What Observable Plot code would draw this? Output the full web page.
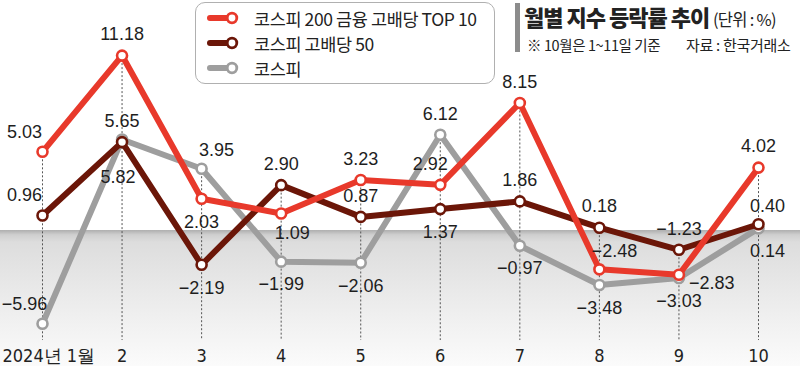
<!DOCTYPE html>
<html><head><meta charset="utf-8">
<script src="https://cdn.jsdelivr.net/npm/d3@7"></script>
<script src="https://cdn.jsdelivr.net/npm/@observablehq/plot@0.6"></script>
<style>
body{margin:0;background:#fff;}
#wrap{position:relative;width:800px;height:366px;overflow:hidden;font-family:"Noto Sans CJK KR","Noto Sans",sans-serif;}
#chart svg{display:block;}
#legend{position:absolute;left:195px;top:2px;width:300px;height:82px;box-sizing:border-box;border:1.5px solid #b0b0b0;border-radius:10px;background:#fff;}
.li{position:absolute;left:10px;height:24px;display:flex;align-items:center;font-size:17.5px;letter-spacing:-0.4px;color:#222;}
.li svg{margin-right:14px;}
#titlebar{position:absolute;left:515px;top:3px;width:5px;height:49px;background:#8c8c8c;}
#title{position:absolute;left:524px;top:3px;width:274px;white-space:nowrap;color:#222;line-height:26px;}
#title b{font-size:22px;font-weight:900;letter-spacing:-1px;}
#title span{font-size:16.5px;letter-spacing:-0.7px;}
#sub{position:absolute;left:527px;top:34px;font-size:14.5px;color:#222;white-space:nowrap;letter-spacing:-0.4px;}
#src{position:absolute;left:686px;top:34px;font-size:15px;color:#222;white-space:nowrap;letter-spacing:-0.3px;}
</style></head>
<body>
<div id="wrap">
<div id="chart"></div>
<div id="legend"></div>
<div id="titlebar"></div>
<div id="title"><b>월별 지수 등락률 추이</b> <span>(단위 : %)</span></div>
<div id="sub">※ 10월은 1~11일 기준</div>
<div id="src">자료 : 한국거래소</div>
</div>
<script>
// ---- data ----
const months = [1, 2, 3, 4, 5, 6, 7, 8, 9, 10];
const monthLabels = ["2024년 1월", "2", "3", "4", "5", "6", "7", "8", "9", "10"];
const seriesNames = ["코스피 200 금융 고배당 TOP 10", "코스피 고배당 50", "코스피"];
const top10 = [5.03, 11.18, 2.03, 1.09, 3.23, 2.92, 8.15, -2.48, -2.83, 4.02];
const div50 = [0.96, 5.65, -2.19, 2.90, 0.87, 1.37, 1.86, 0.18, -1.23, 0.40];
const kospi = [-5.96, 5.82, 3.95, -1.99, -2.06, 6.12, -0.97, -3.48, -3.03, 0.14];
// label placement codes (layout)
const top10Pos = ["tl", "t", "b", "br", "t", "tl1", "t", "tr", "r", "t"];
const div50Pos = ["tl", "t", "b", "t", "t", "b", "t", "t", "t", "tR"];
const kospiPos = ["tl", "bb", "tr", "b", "b", "t", "b", "b", "b", "bR"];

// ---- styles / layout ----
const colors = ["#e8392b", "#6b1608", "#9e9e9e"];
const placements = {
  t: {dx: 0, dy: -21, anchor: "middle"},
  tR: {dx: 9, dy: -18, anchor: "middle"},
  b: {dx: 0, dy: 23, anchor: "middle"},
  bR: {dx: 9, dy: 23, anchor: "middle"},
  bb: {dx: -4, dy: 38, anchor: "middle"},
  tl: {dx: -18, dy: -20, anchor: "middle"},
  tl1: {dx: -10, dy: -21, anchor: "middle"},
  tr: {dx: 15, dy: -18, anchor: "middle"},
  br: {dx: 11, dy: 20, anchor: "middle"},
  r: {dx: 10, dy: 8, anchor: "start"}
};
const Y_MIN = -8.69, Y_MAX = 14.70, RULE_BOTTOM = -7.03;

const seriesVals = [top10, div50, kospi];
const seriesPos = [top10Pos, div50Pos, kospiPos];
const rows = [];
seriesVals.forEach((vals, s) => vals.forEach((v, i) => rows.push({series: s, month: months[i], value: v, pos: seriesPos[s][i]})));
const fmt = v => (v < 0 ? "\u2212" : "") + Math.abs(v).toFixed(2);
const tops = months.map((m, i) => ({month: m, top: Math.max(top10[i], div50[i], kospi[i])}));
const numFont = '"Liberation Sans", Arial, sans-serif';
const narrowFont = '"Liberation Sans Narrow", "DejaVu Sans Condensed", "Liberation Sans", sans-serif';

const marks = [
  Plot.rect([0], {y1: 0, y2: Y_MIN, fill: "url(#band)"}),
  Plot.ruleX(tops, {x: "month", y1: "top", y2: RULE_BOTTOM, stroke: "#555", strokeWidth: 1, strokeDasharray: "2,2"})
];
[2, 1, 0].forEach(s => {
  const d = rows.filter(r => r.series === s);
  marks.push(Plot.line(d, {x: "month", y: "value", stroke: colors[s], strokeWidth: 6, strokeLinejoin: "round", strokeLinecap: "round"}));
  marks.push(Plot.dot(d, {x: "month", y: "value", r: 5, fill: "white", stroke: colors[s], strokeWidth: 2.6}));
});
Object.entries(placements).forEach(([code, p]) => {
  const d = rows.filter(r => r.pos === code);
  if (!d.length) return;
  marks.push(Plot.text(d, {x: "month", y: "value", text: r => fmt(r.value), dx: p.dx, dy: p.dy, textAnchor: p.anchor,
    fontSize: 18, fill: "#1e1e1e", fontFamily: numFont, lineAnchor: "middle"}));
});
marks.push(Plot.text(months.slice(1), {x: d => d, text: (d, i) => monthLabels[i + 1], frameAnchor: "bottom", dy: -10,
  fontSize: 18, fill: "#222", fontFamily: narrowFont, lineAnchor: "middle"}));
marks.push(Plot.text(months.slice(0, 1), {x: d => d, text: () => monthLabels[0], frameAnchor: "bottom", dy: -10, dx: -40,
  textAnchor: "start", fontSize: 18, fill: "#222", fontFamily: narrowFont, lineAnchor: "middle", letterSpacing: "-0.5px"}));

const plot = Plot.plot({
  width: 800, height: 366,
  marginLeft: 0, marginRight: 0, marginTop: 0, marginBottom: 0,
  x: {domain: [1, 10], range: [42, 758], axis: null},
  y: {domain: [Y_MIN, Y_MAX], axis: null},
  style: {background: "transparent", overflow: "visible"},
  marks
});
const defs = d3.select(plot).insert("defs", ":first-child");
const g = defs.append("linearGradient").attr("id", "band").attr("x1", 0).attr("y1", 0).attr("x2", 0).attr("y2", 1);
[[0, "#aeaeae"], [0.035, "#cfcfcf"], [0.09, "#dddddd"], [0.5, "#ebebeb"], [1, "#fbfbfb"]].forEach(([o, c]) =>
  g.append("stop").attr("offset", o).attr("stop-color", c));
document.getElementById("chart").appendChild(plot);

// legend
const legend = document.getElementById("legend");
seriesNames.forEach((name, i) => {
  const row = document.createElement("div");
  row.className = "li";
  row.style.top = (3 + i * 25) + "px";
  row.innerHTML = `<svg width="34" height="14"><line x1="4" y1="7" x2="24" y2="7" stroke="${colors[i]}" stroke-width="6" stroke-linecap="round"/><circle cx="26" cy="7" r="4.8" fill="#fff" stroke="${colors[i]}" stroke-width="2.8"/></svg><span>${name}</span>`;
  legend.appendChild(row);
});
</script>
</body></html>
